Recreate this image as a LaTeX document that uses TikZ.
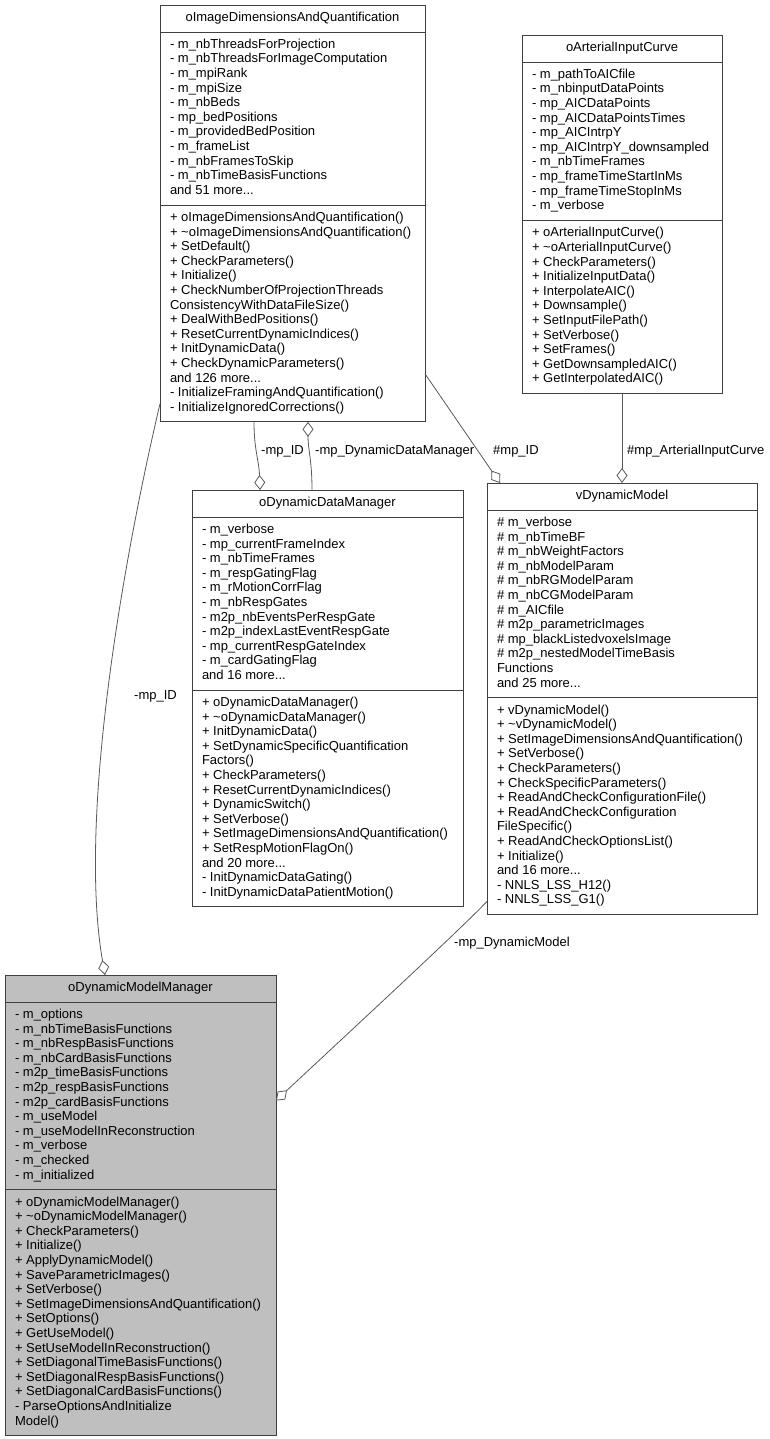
\documentclass[tikz,border=0pt]{standalone}
\usepackage{fontspec}
\setmainfont{Liberation Sans}
\usetikzlibrary{shapes.multipart,arrows.meta}
\newcommand{\rowstrut}{\rule[-4.4pt]{0pt}{14.6pt}}
\tikzset{
  classbox/.style={rectangle split, rectangle split parts=3, draw=black!75, line width=0.8pt,
    fill=white, anchor=north west, align=left, rectangle split part align={center,left,left},
    inner xsep=10pt, inner ysep=5.8pt, outer sep=0pt, font=\fontsize{13}{14.6}\selectfont},
  agg/.style={draw=black!65, line width=0.8pt, -{Diamond[open,length=15pt,width=11pt]}},
  lbl/.style={anchor=west, inner sep=0pt, font=\fontsize{13}{14.6}\selectfont},
}
\begin{document}
\begin{tikzpicture}[x=1pt,y=-1pt]
	\useasboundingbox (0,0) rectangle (769,1439);
	% classes
	\node[classbox, minimum width=265pt] (imgdim) at (160,5) {\rowstrut oImageDimensionsAndQuantification
	\nodepart{two}\rowstrut- m\_nbThreadsForProjection\\
	- m\_nbThreadsForImageComputation\\
	- m\_mpiRank\\
	- m\_mpiSize\\
	- m\_nbBeds\\
	- mp\_bedPositions\\
	- m\_providedBedPosition\\
	- m\_frameList\\
	- m\_nbFramesToSkip\\
	- m\_nbTimeBasisFunctions\\
	and 51 more...\rowstrut
	\nodepart{three}\rowstrut+ oImageDimensionsAndQuantification()\\
	+ \textasciitilde oImageDimensionsAndQuantification()\\
	+ SetDefault()\\
	+ CheckParameters()\\
	+ Initialize()\\
	+ CheckNumberOfProjectionThreads\\
	ConsistencyWithDataFileSize()\\
	+ DealWithBedPositions()\\
	+ ResetCurrentDynamicIndices()\\
	+ InitDynamicData()\\
	+ CheckDynamicParameters()\\
	and 126 more...\\
	- InitializeFramingAndQuantification()\\
	- InitializeIgnoredCorrections()\rowstrut};
	\node[classbox, minimum width=200pt] (aic) at (522,35) {\rowstrut oArterialInputCurve
	\nodepart{two}\rowstrut- m\_pathToAICfile\\
	- m\_nbinputDataPoints\\
	- mp\_AICDataPoints\\
	- mp\_AICDataPointsTimes\\
	- mp\_AICIntrpY\\
	- mp\_AICIntrpY\_downsampled\\
	- m\_nbTimeFrames\\
	- mp\_frameTimeStartInMs\\
	- mp\_frameTimeStopInMs\\
	- m\_verbose\rowstrut
	\nodepart{three}\rowstrut+ oArterialInputCurve()\\
	+ \textasciitilde oArterialInputCurve()\\
	+ CheckParameters()\\
	+ InitializeInputData()\\
	+ InterpolateAIC()\\
	+ Downsample()\\
	+ SetInputFilePath()\\
	+ SetVerbose()\\
	+ SetFrames()\\
	+ GetDownsampledAIC()\\
	+ GetInterpolatedAIC()\rowstrut};
	\node[classbox, minimum width=271pt] (ddm) at (192,490) {\rowstrut oDynamicDataManager
	\nodepart{two}\rowstrut- m\_verbose\\
	- mp\_currentFrameIndex\\
	- m\_nbTimeFrames\\
	- m\_respGatingFlag\\
	- m\_rMotionCorrFlag\\
	- m\_nbRespGates\\
	- m2p\_nbEventsPerRespGate\\
	- m2p\_indexLastEventRespGate\\
	- mp\_currentRespGateIndex\\
	- m\_cardGatingFlag\\
	and 16 more...\rowstrut
	\nodepart{three}\rowstrut+ oDynamicDataManager()\\
	+ \textasciitilde oDynamicDataManager()\\
	+ InitDynamicData()\\
	+ SetDynamicSpecificQuantification\\
	Factors()\\
	+ CheckParameters()\\
	+ ResetCurrentDynamicIndices()\\
	+ DynamicSwitch()\\
	+ SetVerbose()\\
	+ SetImageDimensionsAndQuantification()\\
	+ SetRespMotionFlagOn()\\
	and 20 more...\\
	- InitDynamicDataGating()\\
	- InitDynamicDataPatientMotion()\rowstrut};
	\node[classbox, minimum width=270pt] (dynmodel) at (487,483) {\rowstrut vDynamicModel
	\nodepart{two}\rowstrut\# m\_verbose\\
	\# m\_nbTimeBF\\
	\# m\_nbWeightFactors\\
	\# m\_nbModelParam\\
	\# m\_nbRGModelParam\\
	\# m\_nbCGModelParam\\
	\# m\_AICfile\\
	\# m2p\_parametricImages\\
	\# mp\_blackListedvoxelsImage\\
	\# m2p\_nestedModelTimeBasis\\
	Functions\\
	and 25 more...\rowstrut
	\nodepart{three}\rowstrut+ vDynamicModel()\\
	+ \textasciitilde vDynamicModel()\\
	+ SetImageDimensionsAndQuantification()\\
	+ SetVerbose()\\
	+ CheckParameters()\\
	+ CheckSpecificParameters()\\
	+ ReadAndCheckConfigurationFile()\\
	+ ReadAndCheckConfiguration\\
	FileSpecific()\\
	+ ReadAndCheckOptionsList()\\
	+ Initialize()\\
	and 16 more...\\
	- NNLS\_LSS\_H12()\\
	- NNLS\_LSS\_G1()\rowstrut};
	\node[classbox, minimum width=271pt, fill=black!25] (dmm) at (5,975) {\rowstrut oDynamicModelManager
	\nodepart{two}\rowstrut- m\_options\\
	- m\_nbTimeBasisFunctions\\
	- m\_nbRespBasisFunctions\\
	- m\_nbCardBasisFunctions\\
	- m2p\_timeBasisFunctions\\
	- m2p\_respBasisFunctions\\
	- m2p\_cardBasisFunctions\\
	- m\_useModel\\
	- m\_useModelInReconstruction\\
	- m\_verbose\\
	- m\_checked\\
	- m\_initialized\rowstrut
	\nodepart{three}\rowstrut+ oDynamicModelManager()\\
	+ \textasciitilde oDynamicModelManager()\\
	+ CheckParameters()\\
	+ Initialize()\\
	+ ApplyDynamicModel()\\
	+ SaveParametricImages()\\
	+ SetVerbose()\\
	+ SetImageDimensionsAndQuantification()\\
	+ SetOptions()\\
	+ GetUseModel()\\
	+ SetUseModelInReconstruction()\\
	+ SetDiagonalTimeBasisFunctions()\\
	+ SetDiagonalRespBasisFunctions()\\
	+ SetDiagonalCardBasisFunctions()\\
	- ParseOptionsAndInitialize\\
	Model()\rowstrut};
	% aggregations
	\draw[agg] ([yshift=18pt]imgdim.south west) .. controls (122,565) and (78,820) .. ([xshift=100pt]dmm.north west);
	\draw[agg] ([xshift=94pt]imgdim.south west) .. controls (254,450) and (259,460) .. ([xshift=68pt]ddm.north west);
	\draw[agg] ([xshift=120pt]ddm.north west) .. controls (312,460) and (308,450) .. ([xshift=148pt]imgdim.south west);
	\draw[agg] ([yshift=48pt]imgdim.south east) -- ([xshift=13pt]dynmodel.north west);
	\draw[agg] (aic.south) -- (dynmodel.north);
	\draw[agg] ([yshift=13pt]dynmodel.south west) .. controls (460,930) and (330,1050) .. ([yshift=335pt]dmm.south east);
	% labels
	\node[lbl] (lmpid) at (134,696) {-mp\_ID};
	\node[lbl] (lddmid) at (261,451) {-mp\_ID};
	\node[lbl] (lddm) at (315,451) {-mp\_DynamicDataManager};
	\node[lbl] (ldynid) at (493,451) {\#mp\_ID};
	\node[lbl] (laic) at (627,451) {\#mp\_ArterialInputCurve};
	\node[lbl] (ldyn) at (454,943) {-mp\_DynamicModel};
\end{tikzpicture}
\end{document}
